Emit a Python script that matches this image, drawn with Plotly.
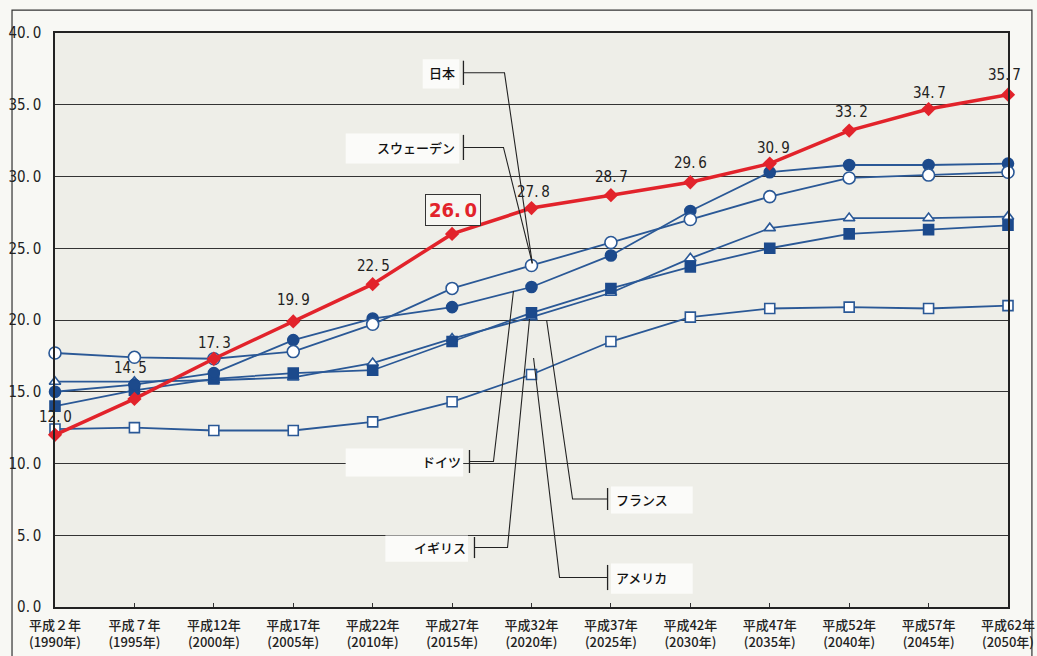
import plotly.graph_objects as go

# 高齢化率の推移（%）
periods = ["平成２年", "平成７年", "平成12年", "平成17年", "平成22年", "平成27年", "平成32年",
           "平成37年", "平成42年", "平成47年", "平成52年", "平成57年", "平成62年"]
years = [1990, 1995, 2000, 2005, 2010, 2015, 2020, 2025, 2030, 2035, 2040, 2045, 2050]

japan = [12.0, 14.5, 17.3, 19.9, 22.5, 26.0, 27.8, 28.7, 29.6, 30.9, 33.2, 34.7, 35.7]
sweden = [17.7, 17.4, 17.3, 17.8, 19.7, 22.2, 23.8, 25.4, 27.0, 28.6, 29.9, 30.1, 30.3]
germany = [15.0, 15.5, 16.3, 18.6, 20.1, 20.9, 22.3, 24.5, 27.6, 30.3, 30.8, 30.8, 30.9]
uk = [15.7, 15.7, 15.8, 16.0, 17.0, 18.7, 20.2, 21.9, 24.3, 26.4, 27.1, 27.1, 27.2]
france = [14.0, 15.1, 15.9, 16.3, 16.5, 18.5, 20.5, 22.2, 23.7, 25.0, 26.0, 26.3, 26.6]
usa = [12.4, 12.5, 12.3, 12.3, 12.9, 14.3, 16.2, 18.5, 20.2, 20.8, 20.9, 20.8, 21.0]

y_ticks = [0, 5, 10, 15, 20, 25, 30, 35, 40]

BLUE = "#2a5896"
BLUE_FILL = "#1c4a8c"
RED = "#e2232b"
NARROW = "Liberation Sans Narrow, DejaVu Sans Condensed, sans-serif"
JP = "Noto Sans CJK JP, sans-serif"


def fmt(v):
    # 小数点の後ろに細いすき間を入れる
    return f"{v:.1f}".replace(".", ".\u2009")


x = list(range(len(years)))
tick_text = [f"{p}<br>({y}年)" for p, y in zip(periods, years)]

fig = go.Figure()


def blue_series(name, values, symbol, filled, size):
    fig.add_trace(go.Scatter(
        x=x, y=values, name=name, mode="lines+markers", cliponaxis=False,
        line=dict(color=BLUE, width=1.8),
        marker=dict(symbol=symbol, size=size,
                    color=BLUE_FILL if filled else "white",
                    line=dict(color=BLUE_FILL if filled else BLUE, width=1.6)),
    ))


blue_series("アメリカ", usa, "square", False, 10)
blue_series("イギリス", uk, "triangle-up", False, 10)
blue_series("フランス", france, "square", True, 10)
blue_series("ドイツ", germany, "circle", True, 11)
blue_series("スウェーデン", sweden, "circle", False, 12)

fig.add_trace(go.Scatter(
    x=x, y=japan, name="日本", mode="lines+markers", cliponaxis=False,
    line=dict(color=RED, width=3.5),
    marker=dict(symbol="diamond", size=11, color=RED),
))

# 日本の数値ラベル（点からの上方向・横方向のずらし px）
label_lift = [18, 31, 16, 21, 18, 24, 16, 18, 19, 16, 19, 16, 20]
label_nudge = [0, -4, 1, 0, 1, 1, 2, 1, 0, 4, 2, 1, -4]
for i, v in enumerate(japan):
    boxed = (years[i] == 2015)
    fig.add_annotation(
        x=i, y=v, text=fmt(v), showarrow=False,
        xshift=label_nudge[i], yshift=label_lift[i],
        font=dict(family=NARROW, size=20 if boxed else 15,
                  color=RED if boxed else "#222222",
                  weight="bold" if boxed else "normal"),
        bordercolor="#333333" if boxed else "rgba(0,0,0,0)",
        borderwidth=1 if boxed else 0,
        borderpad=3 if boxed else 1,
        bgcolor="#f6f6f2" if boxed else "rgba(0,0,0,0)",
    )

# 国名の引き出し線（カテゴリ位置, %）
callouts = [
    # name, text side, tick x, tick y0, tick y1, elbow x, end x, end y, box x0, box x1
    ("日本", "left", 5.143, 38.07, 36.38, 5.66, 6.01, 23.95, 4.63, 5.09),
    ("スウェーデン", "left", 5.143, 32.9, 31.15, 5.647, 6.01, 23.95, 3.66, 5.09),
    ("ドイツ", "left", 5.219, 10.94, 9.34, 5.521, 5.773, 22.02, 3.66, 5.14),
    ("イギリス", "left", 5.282, 4.88, 3.41, 5.698, 5.975, 20.07, 4.16, 5.2),
    ("フランス", "right", 6.958, 8.29, 6.76, 6.517, 6.19, 20.0, 7.0, 8.03),
    ("アメリカ", "right", 6.958, 2.93, 1.18, 6.353, 6.026, 17.35, 7.0, 8.03),
]
for name, side, tx, ty0, ty1, ex, endx, endy, bx0, bx1 in callouts:
    ymid = (ty0 + ty1) / 2
    fig.add_shape(type="rect", xref="x", yref="y", x0=bx0, x1=bx1,
                  y0=ty0 + 0.1, y1=ty1 - 0.25, layer="between",
                  fillcolor="#fbfbf9", line=dict(width=0))
    fig.add_shape(type="line", xref="x", yref="y", x0=tx, x1=tx, y0=ty0, y1=ty1,
                  line=dict(color="#222222", width=1.3))
    fig.add_shape(type="path", xref="x", yref="y",
                  path=f"M {tx},{ymid} L {ex},{ymid} L {endx},{endy}",
                  line=dict(color="#222222", width=1.1))
    fig.add_annotation(
        x=tx, y=ymid, text=name, showarrow=False,
        xanchor="right" if side == "left" else "left",
        xshift=-6 if side == "left" else 6,
        font=dict(family=JP, size=13, color="#111111", weight=500),
    )

# 外枠
fig.add_shape(type="rect", xref="paper", yref="paper",
              x0=-0.0451, x1=1.0251, y0=1.040, y1=-0.095,
              line=dict(color="#333333", width=1.2), layer="below")

fig.update_layout(
    width=1037, height=656,
    margin=dict(l=55, r=29, t=33, b=49),
    paper_bgcolor="#f8f8f4",
    plot_bgcolor="#eeeee8",
    showlegend=False,
    font=dict(family=NARROW, color="#222222"),
)
fig.update_xaxes(
    range=[0, 12], tickvals=x, ticktext=tick_text,
    tickfont=dict(family=JP, size=13, color="#222222", weight=500),
    ticks="inside", ticklen=4, tickcolor="#333333",
    ticklabelstandoff=6, automargin=False,
    showgrid=False, zeroline=False,
    showline=True, mirror=True, linecolor="#222222", linewidth=1.5,
)
fig.update_yaxes(
    range=[0, 40], tickvals=y_ticks, ticktext=[fmt(v) for v in y_ticks],
    tickfont=dict(family=NARROW, size=15, color="#222222"),
    ticks="", ticklabelstandoff=9, automargin=False,
    showgrid=True, gridcolor="#333333", gridwidth=1, zeroline=False,
    showline=True, mirror=True, linecolor="#222222", linewidth=1.5,
)

fig.write_html("out.html")
